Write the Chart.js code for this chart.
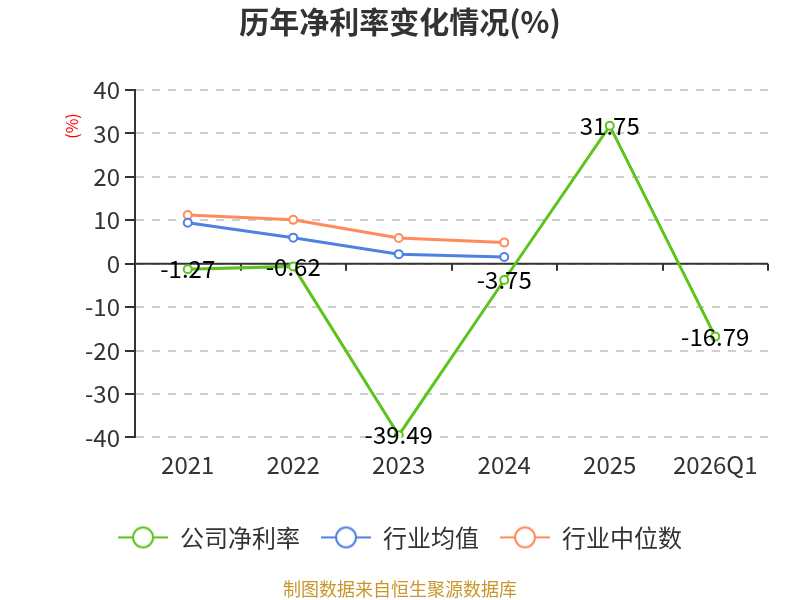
<!DOCTYPE html>
<html>
<head>
<meta charset="utf-8">
<script src="https://cdn.jsdelivr.net/npm/chart.js@4.4.1/dist/chart.umd.min.js"></script>
<style>
  body { margin: 0; background: #fff; }
  #wrap { width: 800px; height: 600px; }
</style>
</head>
<body>
<div id="wrap"><canvas id="c" width="800" height="600"></canvas></div>
<script>
// values
const categories = ["2021", "2022", "2023", "2024", "2025", "2026Q1"];
const companyRate = [-1.27, -0.62, -39.49, -3.75, 31.75, -16.79];
const industryMean = [9.45, 6.0, 2.2, 1.56, null, null];
const industryMedian = [11.2, 10.1, 5.9, 4.86, null, null];
const yMin = -40, yMax = 40, yStep = 10;

const FONT = "'Noto Sans CJK SC', 'Noto Sans', sans-serif";
const GREEN = "#5cc41c", BLUE = "#4f81e3", ORANGE = "#ff8b5b";

// legend marker: short line with a hollow circle
function marker(color) {
  const cv = document.createElement("canvas");
  cv.width = 50; cv.height = 26;
  const g = cv.getContext("2d");
  g.strokeStyle = color; g.lineWidth = 2;
  g.beginPath(); g.moveTo(0, 13); g.lineTo(50, 13); g.stroke();
  g.fillStyle = "#fff";
  g.beginPath(); g.arc(25, 13, 10, 0, Math.PI * 2); g.fill(); g.stroke();
  return cv;
}

// zero line, its tick marks, data labels, red unit label
const extras = {
  id: "extras",
  beforeDatasetsDraw(chart) {
    const { ctx, chartArea: a, scales: { x, y } } = chart;
    const y0 = y.getPixelForValue(0);
    const step = x.getPixelForValue(1) - x.getPixelForValue(0);
    ctx.save();
    ctx.strokeStyle = "#333"; ctx.lineWidth = 2;
    ctx.beginPath(); ctx.moveTo(a.left, y0); ctx.lineTo(a.right, y0); ctx.stroke();
    for (let i = 0; i < categories.length; i++) {
      const px = Math.round(x.getPixelForValue(i) + step / 2);
      ctx.beginPath(); ctx.moveTo(px, y0); ctx.lineTo(px, y0 + 7); ctx.stroke();
    }
    ctx.restore();
  },
  afterDatasetsDraw(chart) {
    const { ctx } = chart;
    const meta = chart.getDatasetMeta(0);
    ctx.save();
    ctx.font = "24px " + FONT;
    ctx.fillStyle = "#000";
    ctx.textAlign = "center"; ctx.textBaseline = "middle";
    meta.data.forEach((p, i) => ctx.fillText(companyRate[i].toFixed(2), p.x, p.y));
    // unit label
    ctx.translate(72, 126);
    ctx.rotate(-Math.PI / 2);
    ctx.fillStyle = "#f00";
    ctx.font = "16px " + FONT;
    ctx.fillText("(%)", 0, 0);
    ctx.restore();
  }
};

const ds = (label, data, color) => ({
  label, data,
  borderColor: color, backgroundColor: "#fff",
  borderWidth: 3,
  pointRadius: 4, pointBorderWidth: 2,
  pointBackgroundColor: "#fff", pointBorderColor: color,
  pointStyle: "circle",
  tension: 0, spanGaps: false
});

new Chart(document.getElementById("c"), {
  type: "line",
  data: {
    labels: categories,
    datasets: [
      ds("公司净利率", companyRate, GREEN),
      ds("行业均值", industryMean, BLUE),
      ds("行业中位数", industryMedian, ORANGE)
    ]
  },
  options: {
    responsive: false,
    animation: false,
    layout: { padding: { left: 32, right: 32, top: 0, bottom: 0 } },
    scales: {
      x: {
        offset: true,
        grid: { display: false, drawTicks: false },
        border: { display: false },
        ticks: { color: "#333", font: { family: FONT, size: 24 }, padding: 13 },
        afterFit: s => { s.height = 67; }
      },
      y: {
        min: yMin, max: yMax,
        ticks: { stepSize: yStep, color: "#333", font: { family: FONT, size: 24 }, padding: 5 },
        grid: { color: "#cfcfcf", lineWidth: 2, tickColor: "#333", tickLength: 10, tickWidth: 2 },
        border: { color: "#333", width: 2, dash: [8, 8] },
        afterFit: s => { s.width = 103; }
      }
    },
    plugins: {
      title: {
        display: true,
        text: "历年净利率变化情况(%)",
        color: "#333",
        font: { family: FONT, size: 30, weight: "bold" },
        padding: { top: 4, bottom: 50 }
      },
      subtitle: {
        display: true,
        position: "bottom",
        text: "制图数据来自恒生聚源数据库",
        color: "#c9962c",
        font: { family: FONT, size: 18 },
        padding: { top: 19, bottom: 0 }
      },
      legend: {
        position: "bottom",
        labels: {
          usePointStyle: true,
          pointStyleWidth: 50,
          color: "#333",
          font: { family: FONT, size: 24 },
          padding: 21,
          generateLabels: chart => chart.data.datasets.map((d, i) => ({
            text: d.label,
            pointStyle: marker(d.borderColor),
            fontColor: "#333",
            strokeStyle: d.borderColor,
            fillStyle: "#fff",
            lineWidth: 0,
            datasetIndex: i
          }))
        }
      },
      tooltip: { enabled: false }
    }
  },
  plugins: [extras]
});
</script>
</body>
</html>
